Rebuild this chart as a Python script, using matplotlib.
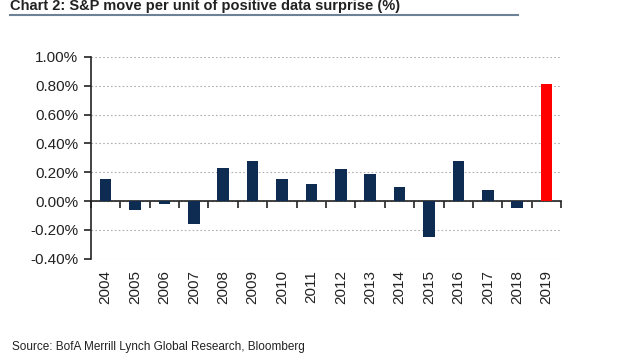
import numpy as np
import matplotlib.pyplot as plt
from matplotlib.ticker import FuncFormatter, MultipleLocator

plt.rcParams['font.family'] = ['Liberation Sans', 'DejaVu Sans']

years = ['2004', '2005', '2006', '2007', '2008', '2009', '2010', '2011',
         '2012', '2013', '2014', '2015', '2016', '2017', '2018', '2019']
values = [0.15, -0.06, -0.02, -0.16, 0.23, 0.28, 0.15, 0.12,
          0.22, 0.19, 0.10, -0.25, 0.28, 0.08, -0.05, 0.81]

navy = '#0e2b52'
colors = [navy] * (len(years) - 1) + ['#ff0000']

fig = plt.figure(figsize=(6.4, 3.6), dpi=100)
ax = fig.add_axes([0.142, 0.281, 0.735, 0.561])

x = np.arange(len(years))
ax.bar(x, values, width=0.4, color=colors, zorder=3)

ax.set_xlim(-0.5, len(years) - 0.5)
ax.set_ylim(-0.4, 1.0)
ax.yaxis.set_major_locator(MultipleLocator(0.2))
ax.yaxis.set_major_formatter(FuncFormatter(lambda v, p: f'{v:.2f}%'))
ax.grid(axis='y', color='#b0b0b0', linestyle=(0, (1.5, 2)), linewidth=0.8, zorder=0)

for s in ['top', 'right']:
    ax.spines[s].set_visible(False)
ax.spines['bottom'].set_position(('data', 0))
ax.spines['left'].set_linewidth(1.2)
ax.spines['bottom'].set_linewidth(1.2)
ax.spines['left'].set_color('#222222')
ax.spines['bottom'].set_color('#222222')

# x ticks at category boundaries on the zero line, labels below the plot
ax.set_xticks(np.arange(len(years) + 1) - 0.5)
ax.set_xticklabels([])
ax.tick_params(axis='x', direction='out', length=5, width=1.2, color='#222222')
ax.tick_params(axis='y', direction='out', length=5, width=1.2, color='#222222',
               labelsize=11, labelcolor='#222222', pad=4)
for xi, yr in zip(x, years):
    ax.text(xi, -0.475, yr, rotation=90, ha='center', va='top', fontsize=11,
            color='#222222', transform=ax.transData)

fig.text(0.016, 0.963, 'Chart 2: S&P move per unit of positive data surprise (%)',
         fontsize=10.5, fontweight='bold', color='#222222', ha='left', va='bottom')
fig.add_artist(plt.Line2D([0.016, 0.81], [0.958, 0.958], color='#6d8296',
                          linewidth=1.5, transform=fig.transFigure))
fig.text(0.018, 0.02, 'Source: BofA Merrill Lynch Global Research, Bloomberg',
         fontsize=8.5, color='#222222', ha='left', va='bottom')

fig.savefig('out.png', dpi=100)
